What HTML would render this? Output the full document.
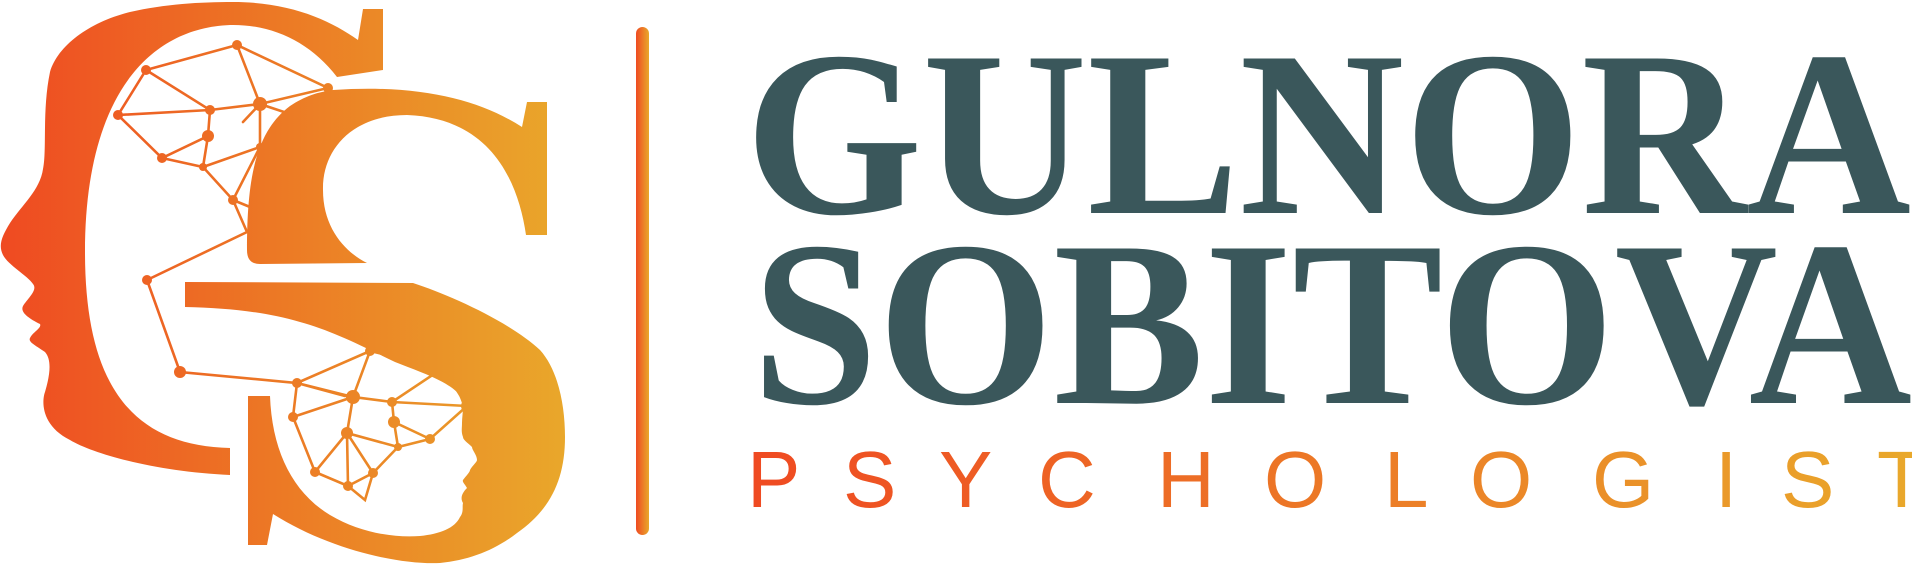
<!DOCTYPE html>
<html>
<head>
<meta charset="utf-8">
<style>
  html,body{margin:0;padding:0;background:#fff;}
  body{width:1912px;height:564px;overflow:hidden;}
  svg{display:block;}
</style>
</head>
<body>
<svg width="1912" height="564" viewBox="0 0 1912 564" xmlns="http://www.w3.org/2000/svg">
  <defs>
    <linearGradient id="lg" gradientUnits="userSpaceOnUse" x1="0" y1="0" x2="570" y2="0">
      <stop offset="0" stop-color="#EF4A22"/>
      <stop offset="0.5" stop-color="#EC7A25"/>
      <stop offset="1" stop-color="#E9A82B"/>
    </linearGradient>
    <linearGradient id="bg" gradientUnits="userSpaceOnUse" x1="636" y1="0" x2="649" y2="0">
      <stop offset="0" stop-color="#EF4A22"/>
      <stop offset="1" stop-color="#E9A82B"/>
    </linearGradient>
    <linearGradient id="pg" gradientUnits="userSpaceOnUse" x1="750" y1="0" x2="1912" y2="0">
      <stop offset="0" stop-color="#EF4A22"/>
      <stop offset="1" stop-color="#E9A82B"/>
    </linearGradient>
  </defs>

  <g fill="url(#lg)">
    <path d="M358,40 L363,9 L383,9 L383,70 L337,77 C310,42 272,24 230,25 C150,28 85,95 85,252 C85,385 132,446 230,448 L230,475 C160,472 95,455 70,440 C40,425 42,400 45,392 C50,375 52,360 45,352 C35,345 28,342 30,338 C33,332 42,328 40,324 C28,318 20,312 23,306 C28,298 38,290 33,284 C28,276 8,265 3,255 C-2,245 2,236 10,223 C22,205 40,190 43,169 C47,150 42,110 50,72 C58,45 90,22 130,12 C165,4 200,2 233,2 C290,2 330,20 358,40 Z"/>
    <path d="M333,90 C420,84 480,100 522,127 L527,102 L547,102 L547,235 L526,235 C518,180 490,118 407,115 C352,115 322,150 323,190 C323,228 345,252 367,263 L260,264 C250,264 247,258 247,250 C247,180 255,132 290,106 C305,96 318,92 333,90 Z"/>
    <path d="M185,282 L413,283 C450,295 510,322 540,350 C558,370 565,405 565,437 C565,480 550,510 517,533 C495,550 470,560 440,563 C400,565 330,550 273,514 L267,545 L248,545 L248,396 L270,396 C272,450 292,492 330,515 C360,533 395,538 420,536 C440,534 455,528 460,517 C464,512 462,507 463,503 C460,498 462,493 467,488 C465,484 462,482 463,480 C466,476 470,472 470,470 C472,466 477,462 477,460 C477,455 472,450 472,447 C468,443 463,440 463,437 C461,432 462,428 462,423 C462,418 463,412 463,407 C462,402 460,398 458,393 C445,380 420,372 395,362 C360,345 330,330 300,322 C265,312 230,308 185,307 Z"/>
  </g>

  <g stroke="url(#lg)" stroke-width="2.6" fill="none" stroke-linecap="round">
    <path d="M237,45 L146,70 L118,115 L162,158 L208,136 L210,110 L146,70 M118,115 L210,110 L260,104 L237,45 L328,88 L260,104 L260,147 L203,167 L162,158 M208,136 L203,167 L233,200 L260,147 M233,200 L247,232 L147,280 L180,372 L297,383 L370,351 L443,368 L467,406 L430,439 L394,422 L392,402 L443,368 M260,104 L287,113 M297,383 L353,397 L370,351 M297,383 L293,417 L353,397 L392,402 L467,406 M392,402 L394,422 L398,447 L430,439 M353,397 L347,433 L398,447 M347,433 L315,472 L293,417 M347,433 L348,486 L315,472 M347,433 L373,473 L398,447 M373,473 L365,500 L348,486 L373,473 M233,200 L250,207 M260,104 L243,122 M297,383 L345,396"/>
  </g>
  <g fill="url(#lg)">
    <circle cx="237" cy="45" r="5"/><circle cx="146" cy="70" r="5"/><circle cx="118" cy="115" r="5"/>
    <circle cx="210" cy="110" r="5"/><circle cx="260" cy="104" r="7"/><circle cx="208" cy="136" r="6"/>
    <circle cx="162" cy="158" r="5"/><circle cx="203" cy="167" r="4"/><circle cx="328" cy="88" r="5"/>
    <circle cx="233" cy="200" r="5"/><circle cx="260" cy="147" r="4"/><circle cx="147" cy="280" r="5"/>
    <circle cx="180" cy="372" r="6"/><circle cx="297" cy="383" r="5"/><circle cx="293" cy="417" r="5"/>
    <circle cx="370" cy="351" r="5"/><circle cx="443" cy="368" r="5"/><circle cx="467" cy="406" r="6"/>
    <circle cx="353" cy="397" r="7"/><circle cx="392" cy="402" r="5"/><circle cx="394" cy="422" r="6"/>
    <circle cx="430" cy="439" r="5"/><circle cx="347" cy="433" r="6"/><circle cx="398" cy="447" r="4"/>
    <circle cx="373" cy="473" r="5"/><circle cx="348" cy="486" r="5"/><circle cx="315" cy="472" r="5"/>
  </g>

  <rect x="636" y="27" width="13" height="508" rx="6.5" fill="url(#bg)"/>

  <text x="745" y="213" font-family="'Liberation Serif', serif" font-weight="bold" font-size="236" fill="#3A575B" textLength="1166" lengthAdjust="spacingAndGlyphs">GULNORA</text>
  <text x="752" y="403" font-family="'Liberation Serif', serif" font-weight="bold" font-size="236" fill="#3A575B" textLength="1160" lengthAdjust="spacingAndGlyphs">SOBITOVA</text>

  <g font-family="'Liberation Sans', sans-serif" font-size="80" fill="url(#pg)">
    <text x="747" y="507">P</text>
    <text x="843" y="507">S</text>
    <text x="939" y="507">Y</text>
    <text x="1038" y="507">C</text>
    <text x="1157" y="507">H</text>
    <text x="1264" y="507">O</text>
    <text x="1384" y="507">L</text>
    <text x="1470" y="507">O</text>
    <text x="1592" y="507">G</text>
    <text x="1715" y="507">I</text>
    <text x="1781" y="507">S</text>
    <text x="1877" y="507">T</text>
  </g>
</svg>
</body>
</html>
